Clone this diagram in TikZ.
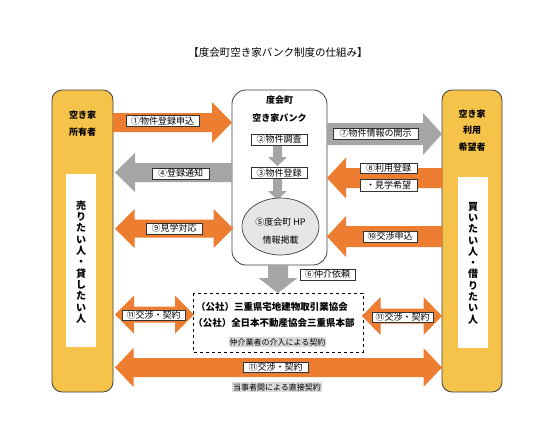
\documentclass[tikz,border=0pt]{standalone}
\usepackage{fontspec}
\setmainfont{Noto Sans CJK JP}
\definecolor{orng}{HTML}{ED7D31}
\definecolor{gry}{HTML}{A5A5A5}
\definecolor{ylw}{HTML}{F6C34A}
\definecolor{elfill}{HTML}{E7E6E6}
\definecolor{hl}{HTML}{D9D9D9}
% horizontal single arrow: tail x, tip x, centre y, shaft half, head half, signed head length, colour
\newcommand{\hsarrow}[7]{\fill[#7] (#1,{#3-#4}) -- ({#2-#6},{#3-#4}) -- ({#2-#6},{#3-#5}) -- (#2,#3) -- ({#2-#6},{#3+#5}) -- ({#2-#6},{#3+#4}) -- (#1,{#3+#4}) -- cycle;}
% horizontal double arrow: left tip, right tip, centre y, shaft half, head half, head length, colour
\newcommand{\hdarrow}[7]{\fill[#7] (#1,#3) -- ({#1+#6},{#3-#5}) -- ({#1+#6},{#3-#4}) -- ({#2-#6},{#3-#4}) -- ({#2-#6},{#3-#5}) -- (#2,#3) -- ({#2-#6},{#3+#5}) -- ({#2-#6},{#3+#4}) -- ({#1+#6},{#3+#4}) -- ({#1+#6},{#3+#5}) -- cycle;}
% vertical down arrow: centre x, tail y, tip y, shaft half, head half, head length, colour
\newcommand{\vdarrow}[7]{\fill[#7] ({#1-#4},#2) -- ({#1-#4},{#3-#6}) -- ({#1-#5},{#3-#6}) -- (#1,#3) -- ({#1+#5},{#3-#6}) -- ({#1+#4},{#3-#6}) -- ({#1+#4},#2) -- cycle;}
\begin{document}
\begin{tikzpicture}[x=1pt,y=-1pt,
  col/.style={draw=black!75, line width=0.8pt, fill=ylw, rounded corners=10pt},
  lbl/.style={draw=black!80, fill=white, line width=0.5pt, inner sep=0pt, minimum width=#1, minimum height=11pt, font=\fontsize{9}{9.5}\selectfont},
  head/.style={font=\bfseries\fontsize{9}{10}\selectfont},
  vtext/.style={font=\bfseries\fontsize{10}{11.3}\selectfont, align=center, inner sep=0pt},
  hltext/.style={fill=hl, inner sep=1pt, font=\fontsize{8}{9}\selectfont}]
\useasboundingbox (0,0) rectangle (558,447);
\fill[white] (0,0) rectangle (558,447);
% title
\node[font=\fontsize{10.5}{12}\selectfont] (title) at (278,53) {【度会町空き家バンク制度の仕組み】};
% side columns
\draw[col] (52,90) rectangle (113,392);
\draw[col] (442,90) rectangle (502,392);
\fill[white] (66,174) rectangle (96,347);
\fill[white] (458,177) rectangle (488,348);
\node[head] (own1) at (82.5,115) {空き家};
\node[head] (own2) at (82.5,132) {所有者};
\node[head] (usr1) at (472,114) {空き家};
\node[head] (usr2) at (472,130) {利用};
\node[head] (usr3) at (472,147) {希望者};
\node[vtext] (seller) at (81,262) {売\\り\\た\\い\\人\\・\\貸\\し\\た\\い\\人};
\node[vtext] (buyer) at (473,263) {買\\い\\た\\い\\人\\・\\借\\り\\た\\い\\人};
% centre box
\draw[draw=black!75, line width=0.8pt, fill=white, rounded corners=14pt] (232,90) rectangle (327,265);
\node[head] (bank1) at (279.5,100) {度会町};
\node[head] (bank2) at (279.5,118) {空き家バンク};
\vdarrow{277.5}{145}{166}{4.5}{9.5}{9}{gry}
\vdarrow{277.5}{178}{200}{4.5}{9.5}{9}{gry}
\draw[draw=black!75, line width=0.7pt, fill=elfill] (280.5,226.5) ellipse [x radius=38.5, y radius=28.5];
\node[font=\fontsize{9}{9.5}\selectfont] (hp1) at (280.5,222) {⑤度会町 HP};
\node[font=\fontsize{9}{9.5}\selectfont] (hp2) at (280.5,240) {情報掲載};
\node[lbl=56] (s2) at (279,139.5) {②物件調査};
\node[lbl=56] (s3) at (279,173) {③物件登録};
% dashed agent box
\draw[dashed, line width=1pt] (193,293) rectangle (363,352);
\node[head, font=\bfseries\fontsize{9.5}{10}\selectfont] (ag1) at (272,307) {（公社）三重県宅地建物取引業協会};
\node[head, font=\bfseries\fontsize{9.5}{10}\selectfont] (ag2) at (274,323) {（公社）全日本不動産協会三重県本部};
\node[hltext] (ag3) at (277.5,342) {仲介業者の介入による契約};
% arrows
\hsarrow{113}{232}{122.5}{9.5}{20.5}{20}{orng}
\hsarrow{327}{442}{134}{11}{21}{19}{gry}
\hsarrow{232}{115}{172.5}{9.5}{19.5}{-20}{gry}
\hsarrow{442}{327}{178}{10}{20.5}{-19}{orng}
\hdarrow{115}{233}{228.5}{9}{19.5}{19.5}{orng}
\hsarrow{442}{327}{236.5}{10.5}{20.5}{-19}{orng}
\vdarrow{278}{265}{293}{10}{19.5}{15}{gry}
\hdarrow{115}{194}{314.5}{8}{19}{19}{orng}
\hdarrow{362}{442}{316}{7.5}{19}{18.5}{orng}
\hdarrow{115}{442}{367.5}{9.5}{19.5}{18.5}{orng}
% labels
\node[lbl=73] (l1) at (162.5,121) {①物件登録申込};
\node[lbl=85] (l7) at (375.5,133.5) {⑦物件情報の開示};
\node[lbl=57] (l4) at (180.5,173.5) {④登録通知};
\node[lbl=57, minimum height=10.5pt] (l8a) at (388.5,168) {⑧利用登録};
\node[lbl=57, minimum height=12pt] (l8b) at (388.5,185) {・見学希望};
\node[lbl=56] (l9) at (174,228.5) {⑨見学対応};
\node[lbl=54] (l10) at (390,236.5) {⑩交渉申込};
\node[lbl=55] (l6) at (327.5,274.5) {⑥仲介依頼};
\node[lbl=63, minimum height=10.5pt] (l11a) at (153.5,315) {⑪交渉・契約};
\node[lbl=61, minimum height=10.5pt] (l11b) at (402.5,317) {⑪交渉・契約};
\node[lbl=65, minimum height=10.5pt] (l11c) at (275.5,367) {⑪交渉・契約};
\node[hltext] (direct) at (277,387) {当事者間による直接契約};
\end{tikzpicture}
\end{document}
